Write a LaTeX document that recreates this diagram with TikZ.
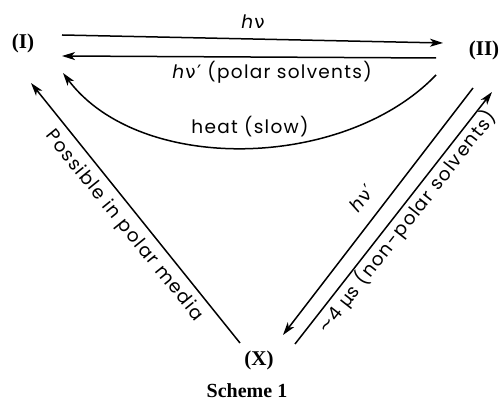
\documentclass[tikz,border=0pt]{standalone}
\usepackage{fontspec}
\setmainfont{Liberation Serif}
\newfontfamily\lab[LetterSpace=7]{Poppins}
\newfontfamily\grk[LetterSpace=7]{DejaVu Sans}
\usetikzlibrary{arrows.meta,calc}
\begin{document}
\begin{tikzpicture}[x=1pt,y=1pt,
  arr/.style={line width=1.5pt,-{Stealth[length=13pt,width=8pt,inset=3.5pt]}},
  cmpd/.style={font=\fontsize{21}{24}\selectfont\bfseries},
  lbl/.style={font=\lab\fontsize{18.5}{21}\selectfont}]
  \useasboundingbox (0,0) rectangle (503,403);
  \node[cmpd] (I) at (23,360) {(I)};
  \node[cmpd] (II) at (484,353) {(II)};
  \node[cmpd] (X) at (259,43) {(X)};
  \node[font=\fontsize{20}{23}\selectfont\bfseries] (cap) at (247,12) {Scheme 1};
  % I <-> II
  \draw[arr] ($(I)+(39,8)$) -- ($(II)+(-41,7)$);
  \draw[arr] ($(II)+(-48,-8)$) -- ($(I)+(39,-13)$);
  \draw[arr] ($(II)+(-48,-25)$) .. controls (345,233) and (140,228) .. ($(I)+(40,-30)$);
  \node[lbl] (hv) at (253,381) {\textit{h}{\grk ν}};
  \node[lbl] (hvp) at (272,331) {\textit{h}{\grk ν′} (polar solvents)};
  \node[lbl] (heat) at (250,276) {heat (slow)};
  % X -> I
  \draw[arr] ($(X)+(-19,17)$) -- ($(I)+(8,-40)$);
  \node[lbl,rotate=-51] (polar) at (124,177) {Possible in polar media};
  % II <-> X
  \draw[arr] ($(II)+(-11,-38)$) -- ($(X)+(24,25)$);
  \draw[arr] ($(X)+(36,16)$) -- ($(II)+(8,-42)$);
  \node[lbl,rotate=52] (hvx) at (362,205) {\textit{h}{\grk ν′}};
  \node[lbl,rotate=52] (nonpolar) at (407,181) {{\grk ∼}4 {\grk μ}s (non-polar solvents)};
\end{tikzpicture}
\end{document}
